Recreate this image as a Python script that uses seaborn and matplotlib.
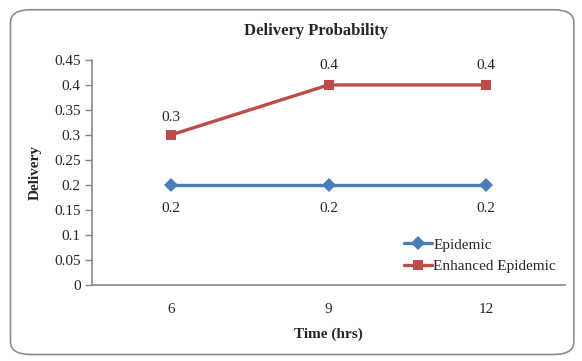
import matplotlib
matplotlib.use("Agg")
import matplotlib.pyplot as plt
import seaborn as sns
import pandas as pd
from matplotlib.patches import FancyBboxPatch

times = ["6", "9", "12"]
epidemic = [0.2, 0.2, 0.2]
enhanced = [0.3, 0.4, 0.4]
yticks = [0, 0.05, 0.1, 0.15, 0.2, 0.25, 0.3, 0.35, 0.4, 0.45]
ytick_labels = ["0", "0.05", "0.1", "0.15", "0.2", "0.25", "0.3", "0.35", "0.4", "0.45"]

sns.set_theme(style="white")
plt.rcParams['font.family'] = ['Liberation Serif', 'DejaVu Serif']

df = pd.DataFrame({
    "Time": times * 2,
    "Delivery": epidemic + enhanced,
    "Series": ["Epidemic"] * 3 + ["Enhanced Epidemic"] * 3,
})

fig = plt.figure(figsize=(5.82, 3.61), dpi=100)
fig.patch.set_facecolor("white")
border = FancyBboxPatch((0.018, 0.018), 0.968, 0.955, boxstyle="round,pad=0,rounding_size=0.035",
                        transform=fig.transFigure, facecolor="none", edgecolor="#8c8c8c",
                        linewidth=1.2, zorder=-10)
fig.patches.append(border)

ax = fig.add_axes([0.158, 0.2105, 0.813, 0.6235])
ax.set_facecolor("none")

palette = {"Epidemic": "#4A7EBB", "Enhanced Epidemic": "#BE4B48"}
sns.lineplot(data=df, x="Time", y="Delivery", hue="Series", style="Series",
             markers={"Epidemic": "D", "Enhanced Epidemic": "s"}, dashes=False,
             palette=palette, linewidth=2.4, markersize=7, markeredgewidth=0,
             sort=False, ax=ax)

ax.set_xlim(-0.5, 2.5)
ax.set_ylim(0, 0.45)
ax.set_yticks(yticks)
ax.set_yticklabels(ytick_labels)
ax.tick_params(axis="y", which="both", left=True, length=5, width=1, color="#868686",
               labelsize=11, pad=3, direction="out")
ax.tick_params(axis="x", bottom=False, labelsize=11, pad=7)
for s in ["top", "right"]:
    ax.spines[s].set_visible(False)
for s in ["left", "bottom"]:
    ax.spines[s].set_color("#868686")
    ax.spines[s].set_linewidth(1.2)

for i, v in enumerate(enhanced):
    off = 8 if v < 0.35 else 9
    ax.annotate(f"{v:g}", (i, v), xytext=(0, off), textcoords="offset points",
                ha="center", va="bottom", fontsize=11)
for i, v in enumerate(epidemic):
    ax.annotate(f"{v:g}", (i, v), xytext=(0, -12), textcoords="offset points",
                ha="center", va="top", fontsize=11)

ax.set_xlabel("Time (hrs)", fontsize=11, fontweight="bold", labelpad=8)
ax.set_ylabel("Delivery", fontsize=11, fontweight="bold", labelpad=9)
fig.text(0.543, 0.915, "Delivery Probability", ha="center", va="center",
         fontsize=12, fontweight="bold")

leg = ax.legend(loc="lower right", bbox_to_anchor=(1.0, 0.013), frameon=False, fontsize=11,
                handlelength=1.8, handletextpad=0.1, labelspacing=0.5, borderaxespad=0.2)

fig.savefig("out.png", dpi=100)
